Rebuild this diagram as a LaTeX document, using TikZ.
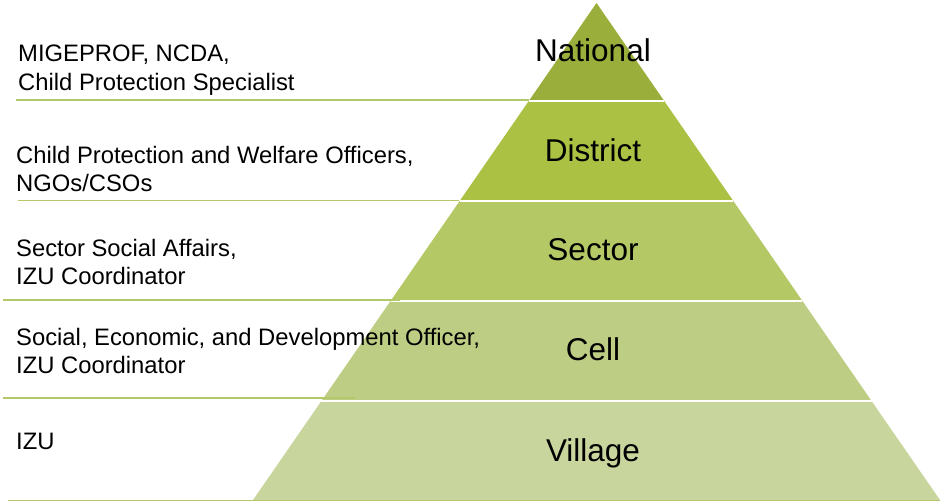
\documentclass[tikz,border=0pt]{standalone}
\usepackage{fontspec}
\setmainfont{Liberation Sans}

\definecolor{natgreen}{HTML}{9AAF3B}
\definecolor{disgreen}{HTML}{AAC144}
\definecolor{secgreen}{HTML}{B4C866}
\definecolor{cellgreen}{HTML}{BDCD83}
\definecolor{vilgreen}{HTML}{C8D59C}
\definecolor{rulegreen}{HTML}{B3C86A}

\begin{document}
\begin{tikzpicture}[x=1pt,y=-1pt,
    level/.style={font=\fontsize{31.5}{36}\selectfont, anchor=base, inner sep=0pt},
    duty/.style={font=\fontsize{23.8}{28.5}\selectfont, align=left, anchor=north west, inner sep=0pt},
    rule/.style={draw=rulegreen, line width=1.6pt}]
  \useasboundingbox (0,0) rectangle (942,502);

  % pyramid bands, apex (596.5,3), base 253..940 at y=500
  \foreach \top/\bot/\col in {3/101/natgreen, 101/201/disgreen, 201/301/secgreen,
                               301/401/cellgreen, 401/500/vilgreen}{
    \pgfmathsetmacro\lt{596.5-0.69115*(\top-3)}
    \pgfmathsetmacro\rt{596.5+0.69115*(\top-3)}
    \pgfmathsetmacro\lb{596.5-0.69115*(\bot-3)}
    \pgfmathsetmacro\rb{596.5+0.69115*(\bot-3)}
    \fill[\col] (\lt,\top) -- (\rt,\top) -- (\rb,\bot) -- (\lb,\bot) -- cycle;
  }
  % white gaps between the bands
  \foreach \y in {101,201,301,401}{
    \pgfmathsetmacro\l{596.5-0.69115*(\y-3)}
    \pgfmathsetmacro\r{596.5+0.69115*(\y-3)}
    \draw[white, line width=1.4pt] (\l,\y) -- (\r,\y);
  }

  % level names
  \node[level] (national) at (593,62) {National};
  \node[level] (district) at (593,162) {District};
  \node[level] (sector) at (593,261) {Sector};
  \node[level] (cell) at (593,361) {Cell};
  \node[level] (village) at (593,461) {Village};

  % who is in charge at each level
  \node[duty] (natduty) at (18,45) {MIGEPROF, NCDA,\\Child Protection Specialist};
  \node[duty] (disduty) at (16,146) {Child Protection and Welfare Officers,\\NGOs/CSOs};
  \node[duty] (secduty) at (16,239) {Sector Social Affairs,\\IZU Coordinator};
  \node[duty] (cellduty) at (16,328) {Social, Economic, and Development Officer,\\IZU Coordinator};
  \node[duty] (vilduty) at (16,433) {IZU};

  % separating rules
  \draw[rule] (16,100) -- (529,100);
  \draw[rule] (18,200.5) -- (459,200.5);
  \draw[rule] (3,300) -- (400,300);
  \draw[rule] (3,398) -- (355,398);
  \draw[rule] (8,500.5) -- (940,500.5);
\end{tikzpicture}
\end{document}
